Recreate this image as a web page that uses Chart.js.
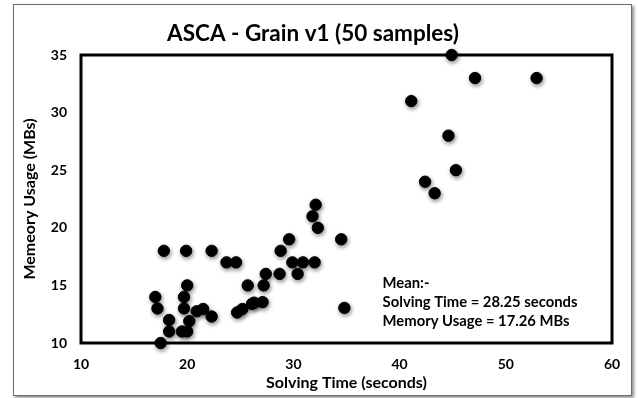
<!DOCTYPE html>
<html>
<head>
<meta charset="utf-8">
<script src="https://cdn.jsdelivr.net/npm/chart.js@4.4.1/dist/chart.umd.min.js"></script>
<style>
  body { margin: 0; background: #fff; }
  .frame {
    position: absolute; left: 13px; top: 4px; width: 617px; height: 390px;
    border: 1px solid #6b6b6b; box-shadow: 2px 2px 3px rgba(0,0,0,0.45); background: #fff;
  }
  .wrap { position: absolute; left: 0; top: 0; width: 638px; height: 398px; }
</style>
</head>
<body>
<div class="frame"></div>
<div class="wrap"><canvas id="chart" width="638" height="398"></canvas></div>
<script>
// Dados
const solvingTime = [
  17.8, 19.9, 22.3, 23.7, 24.6, 17.0, 17.2, 18.3, 18.3, 17.5,
  19.7, 20.0, 19.7, 20.2, 19.5, 20.0, 20.9, 21.5, 22.3, 24.7,
  25.2, 26.1, 26.3, 27.1, 25.7, 27.2, 27.4, 28.7, 28.8, 29.6,
  29.9, 30.9, 30.4, 32.0, 31.8, 32.1, 32.3, 34.5, 34.8, 44.9,
  47.1, 52.9, 41.1, 44.6, 45.3, 42.4, 43.3
];
const memoryUsage = [
  18, 18, 18, 17, 17, 14, 13, 12, 11, 10,
  14, 15, 13, 11.9, 11, 11, 12.75, 12.95, 12.3, 12.65,
  12.95, 13.4, 13.5, 13.55, 15, 15, 16, 16, 18, 19,
  17, 17, 16, 17, 21, 22, 20, 19, 13.05, 35,
  33, 33, 31, 28, 25, 24, 23
];
const xTicks = [10, 20, 30, 40, 50, 60];
const yTicks = [10, 15, 20, 25, 30, 35];
const meanLines = ['Mean:-', 'Solving Time = 28.25 seconds', 'Memory Usage = 17.26 MBs'];

const FONT = 'Lato, "Open Sans", sans-serif';

// Moldura da área do gráfico + sombra dos pontos
const boxPlugin = {
  id: 'box',
  beforeDatasetsDraw(chart) {
    const { ctx, chartArea: a } = chart;
    ctx.save();
    ctx.strokeStyle = '#000';
    ctx.lineWidth = 3;
    ctx.strokeRect(a.left, a.top, a.right - a.left, a.bottom - a.top);
    ctx.restore();
    ctx.save();
    ctx.shadowColor = 'rgba(0,0,0,0.45)';
    ctx.shadowBlur = 4;
    ctx.shadowOffsetX = 1;
    ctx.shadowOffsetY = 2;
  },
  afterDatasetsDraw(chart) {
    chart.ctx.restore();
  }
};

// Texto da média
const meanPlugin = {
  id: 'mean',
  afterDraw(chart) {
    const { ctx, scales: { x, y } } = chart;
    ctx.save();
    ctx.fillStyle = '#000';
    ctx.font = 'bold 14.8px ' + FONT;
    ctx.textBaseline = 'middle';
    const left = x.getPixelForValue(38.4);
    meanLines.forEach((t, i) => {
      ctx.fillText(t, left, y.getPixelForValue(15.2) + i * 19);
    });
    ctx.restore();
  }
};

const tickFont = { family: FONT, size: 14, weight: 'bold' };
const axisTitleFont = { family: FONT, size: 16, weight: 'bold' };

new Chart(document.querySelector('#chart').getContext('2d'), {
  type: 'scatter',
  data: {
    datasets: [{
      data: solvingTime.map((v, i) => ({ x: v, y: memoryUsage[i] })),
      backgroundColor: '#000',
      borderColor: '#000',
      pointRadius: 5.7,
      pointHoverRadius: 5.7,
      clip: false
    }]
  },
  options: {
    responsive: false,
    animation: false,
    layout: { padding: { left: 14, right: 26, top: 0, bottom: 6 } },
    plugins: {
      legend: { display: false },
      tooltip: { enabled: false },
      title: {
        display: true,
        text: 'ASCA - Grain v1 (50 samples)',
        color: '#000',
        font: { family: FONT, size: 22.5, weight: 'bold' },
        padding: { top: 20, bottom: 8 }
      }
    },
    scales: {
      x: {
        min: 10, max: 60,
        afterBuildTicks: s => { s.ticks = xTicks.map(v => ({ value: v })); },
        afterFit: s => { s.height = 49; },
        grid: { display: false, drawTicks: false },
        border: { display: false },
        ticks: { color: '#000', font: tickFont, padding: 13 },
        title: {
          display: true, text: 'Solving Time (seconds)', color: '#000',
          font: axisTitleFont, padding: { top: 0, bottom: 0 }
        }
      },
      y: {
        min: 10, max: 35,
        afterBuildTicks: s => { s.ticks = yTicks.map(v => ({ value: v })); },
        afterFit: s => { s.width = 67; },
        grid: { display: false, drawTicks: false },
        border: { display: false },
        ticks: { color: '#000', font: tickFont, padding: 14 },
        title: {
          display: true, text: 'Memeory Usage (MBs)', color: '#000',
          font: axisTitleFont, padding: { top: 6, bottom: 0 }
        }
      }
    }
  },
  plugins: [boxPlugin, meanPlugin]
});
</script>
</body>
</html>
